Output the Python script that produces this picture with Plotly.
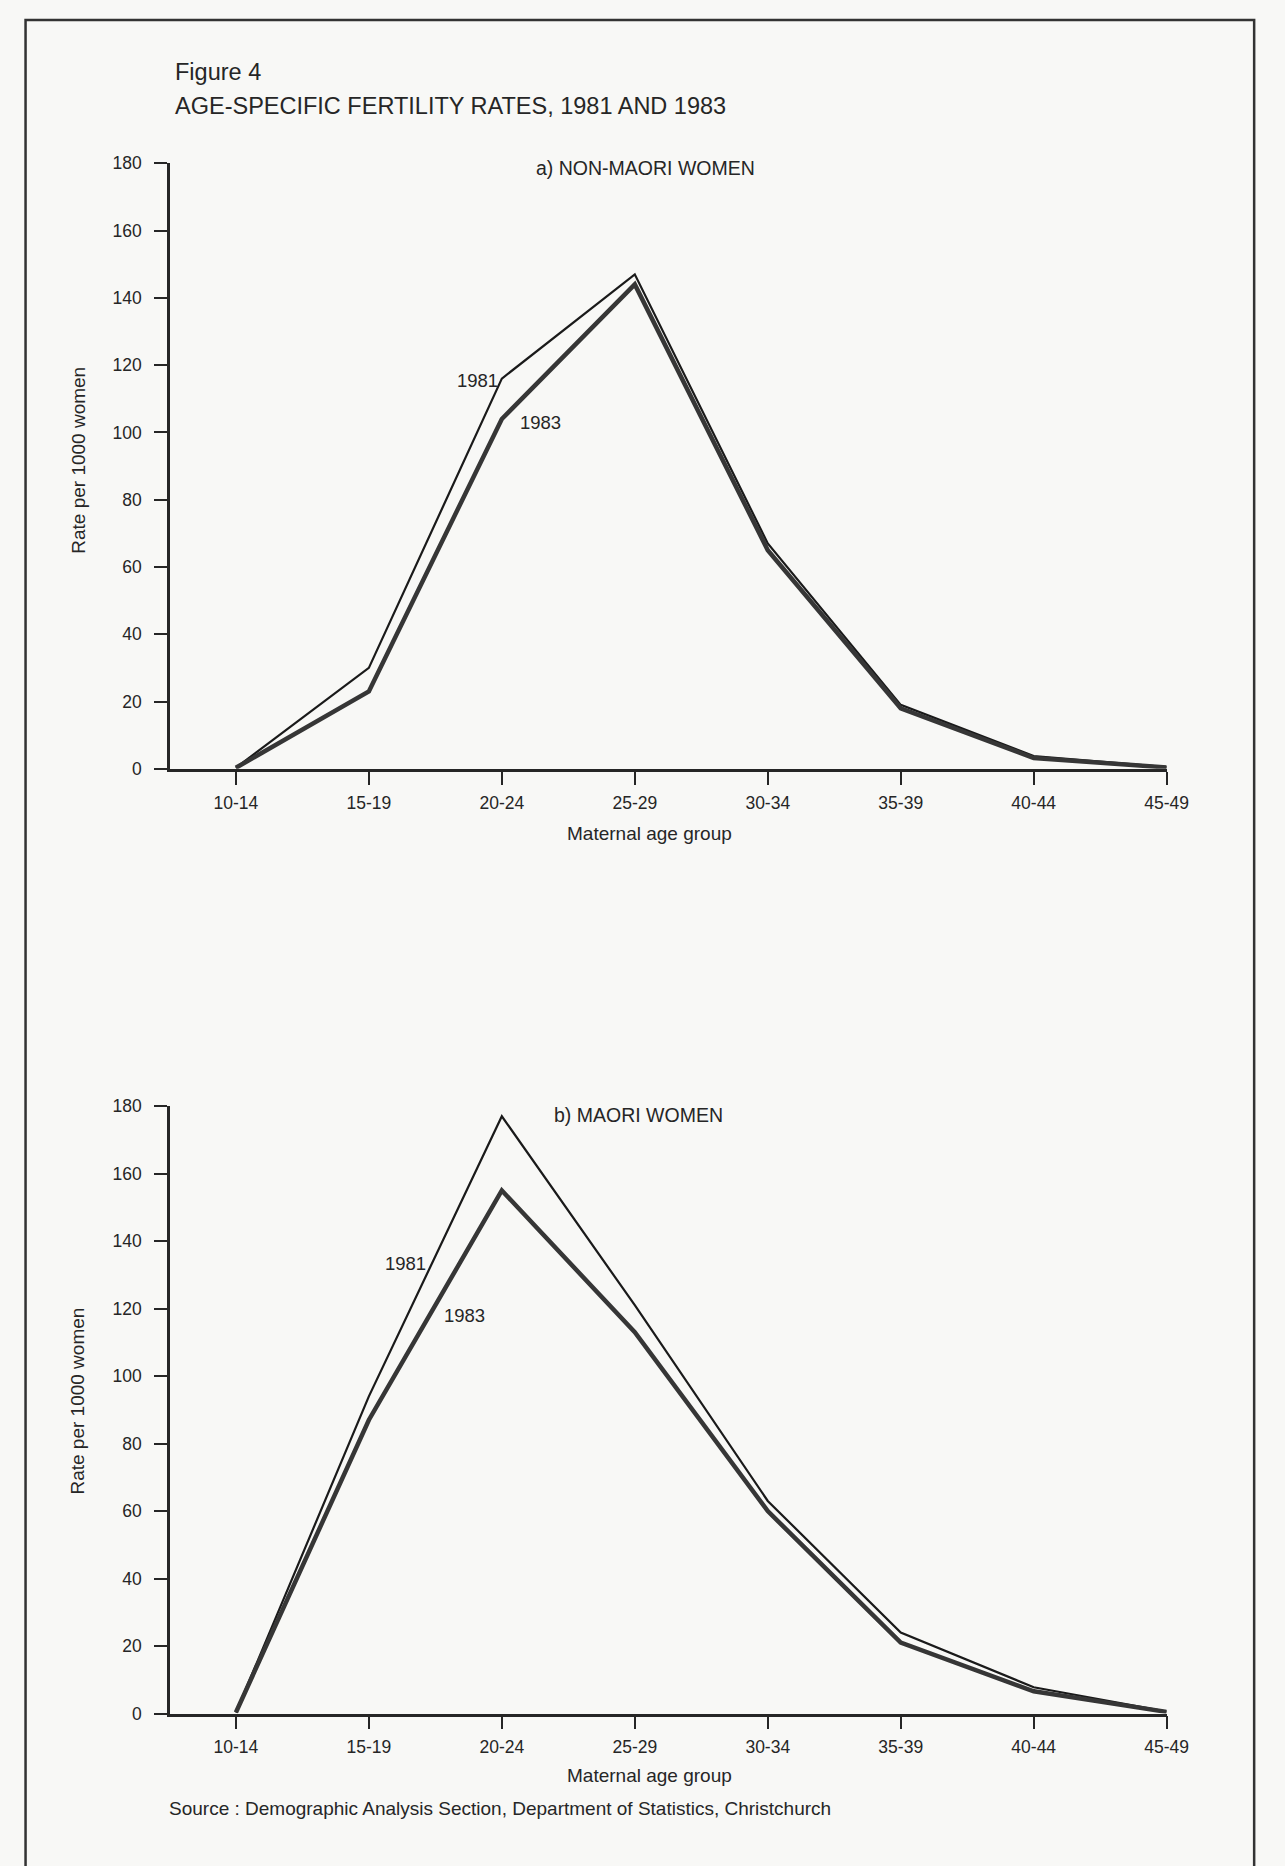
import plotly.graph_objects as go

W, H = 1285, 1866

age_groups = ["10-14", "15-19", "20-24", "25-29", "30-34", "35-39", "40-44", "45-49"]
nonmaori_1981 = [0.3, 30, 116, 147, 67, 19, 3.8, 0.5]
nonmaori_1983 = [0.3, 23, 104, 144, 65, 18, 3.2, 0.4]
maori_1981 = [0.3, 94, 177, 121, 63, 24, 7.8, 0.6]
maori_1983 = [0.3, 87, 155, 113, 60, 21, 6.6, 0.5]
y_ticks = [0, 20, 40, 60, 80, 100, 120, 140, 160, 180]

SANS = "Liberation Sans, Arial, Helvetica, sans-serif"
INK = "#262626"


def px(x):
    return x / W


def py(y):
    return 1 - y / H


xi = list(range(len(age_groups)))

fig = go.Figure()

fig.add_trace(go.Scatter(x=xi, y=nonmaori_1981, mode="lines", name="1981",
                         line=dict(color="#1a1a1a", width=2.2), xaxis="x", yaxis="y"))
fig.add_trace(go.Scatter(x=xi, y=nonmaori_1983, mode="lines", name="1983",
                         line=dict(color="#363636", width=4.5), xaxis="x", yaxis="y"))
fig.add_trace(go.Scatter(x=xi, y=maori_1981, mode="lines", name="1981",
                         line=dict(color="#1a1a1a", width=2.2), xaxis="x2", yaxis="y2"))
fig.add_trace(go.Scatter(x=xi, y=maori_1983, mode="lines", name="1983",
                         line=dict(color="#363636", width=4.5), xaxis="x2", yaxis="y2"))

x_left, x0_px, x7_px = 173, 240, 1187
unit = (x7_px - x0_px) / 7
xrange = [-(x0_px - x_left) / unit, 7]
xdomain = [px(x_left), px(x7_px)]

common_x = dict(
    range=xrange, domain=xdomain, tickmode="array", tickvals=xi, ticktext=age_groups,
    ticks="outside", ticklen=13, tickwidth=2, tickcolor=INK,
    showline=True, linewidth=2.5, linecolor=INK, showgrid=False, zeroline=False,
    tickfont=dict(family=SANS, size=17.5, color=INK), ticklabelstandoff=3,
)
common_y = dict(
    range=[0, 180], tickmode="array", tickvals=y_ticks,
    ticks="outside", ticklen=13, tickwidth=2, tickcolor=INK,
    showline=True, linewidth=2.5, linecolor=INK, showgrid=False, zeroline=False,
    tickfont=dict(family=SANS, size=17.5, color=INK), ticklabelstandoff=9,
)

fig.update_layout(
    width=W, height=H,
    margin=dict(l=0, r=0, t=0, b=0),
    paper_bgcolor="#f8f8f6", plot_bgcolor="rgba(0,0,0,0)",
    showlegend=False,
    xaxis=dict(**common_x, anchor="y"),
    yaxis=dict(**common_y, domain=[py(767), py(155)], anchor="x"),
    xaxis2=dict(**common_x, anchor="y2"),
    yaxis2=dict(**common_y, domain=[py(1722), py(1108)], anchor="x2"),
)

fig.add_shape(type="rect", xref="paper", yref="paper",
              x0=px(26), x1=px(1276), y0=py(1900), y1=py(10),
              line=dict(color="#333333", width=2.5), fillcolor="rgba(0,0,0,0)", layer="below")


def text(x, y, s, size, xanchor="left", angle=0):
    fig.add_annotation(x=px(x), y=py(y), xref="paper", yref="paper", text=s,
                       showarrow=False, xanchor=xanchor, yanchor="middle", textangle=angle,
                       font=dict(family=SANS, size=size, color=INK))


text(176, 63, "Figure 4", 23.5)
text(176, 97, "AGE-SPECIFIC FERTILITY RATES, 1981 AND 1983", 23.5)
text(543, 160, "a) NON-MAORI WOMEN", 19.5)
text(562, 1117, "b) MAORI WOMEN", 19.5)

text(79, 455, "Rate per 1000 women", 19, xanchor="center", angle=-90)
text(79, 1406, "Rate per 1000 women", 19, xanchor="center", angle=-90)
text(661, 832, "Maternal age group", 19, xanchor="center")
text(661, 1785, "Maternal age group", 19, xanchor="center")

text(486, 375, "1981", 18.5, xanchor="center")
text(550, 417, "1983", 18.5, xanchor="center")
text(413, 1267, "1981", 18.5, xanchor="center")
text(473, 1320, "1983", 18.5, xanchor="center")

text(170, 1818, "Source : Demographic Analysis Section, Department of Statistics, Christchurch", 19)

fig.write_html("out.html", config={"displayModeBar": False},
               post_script="document.body.style.margin='0';")
